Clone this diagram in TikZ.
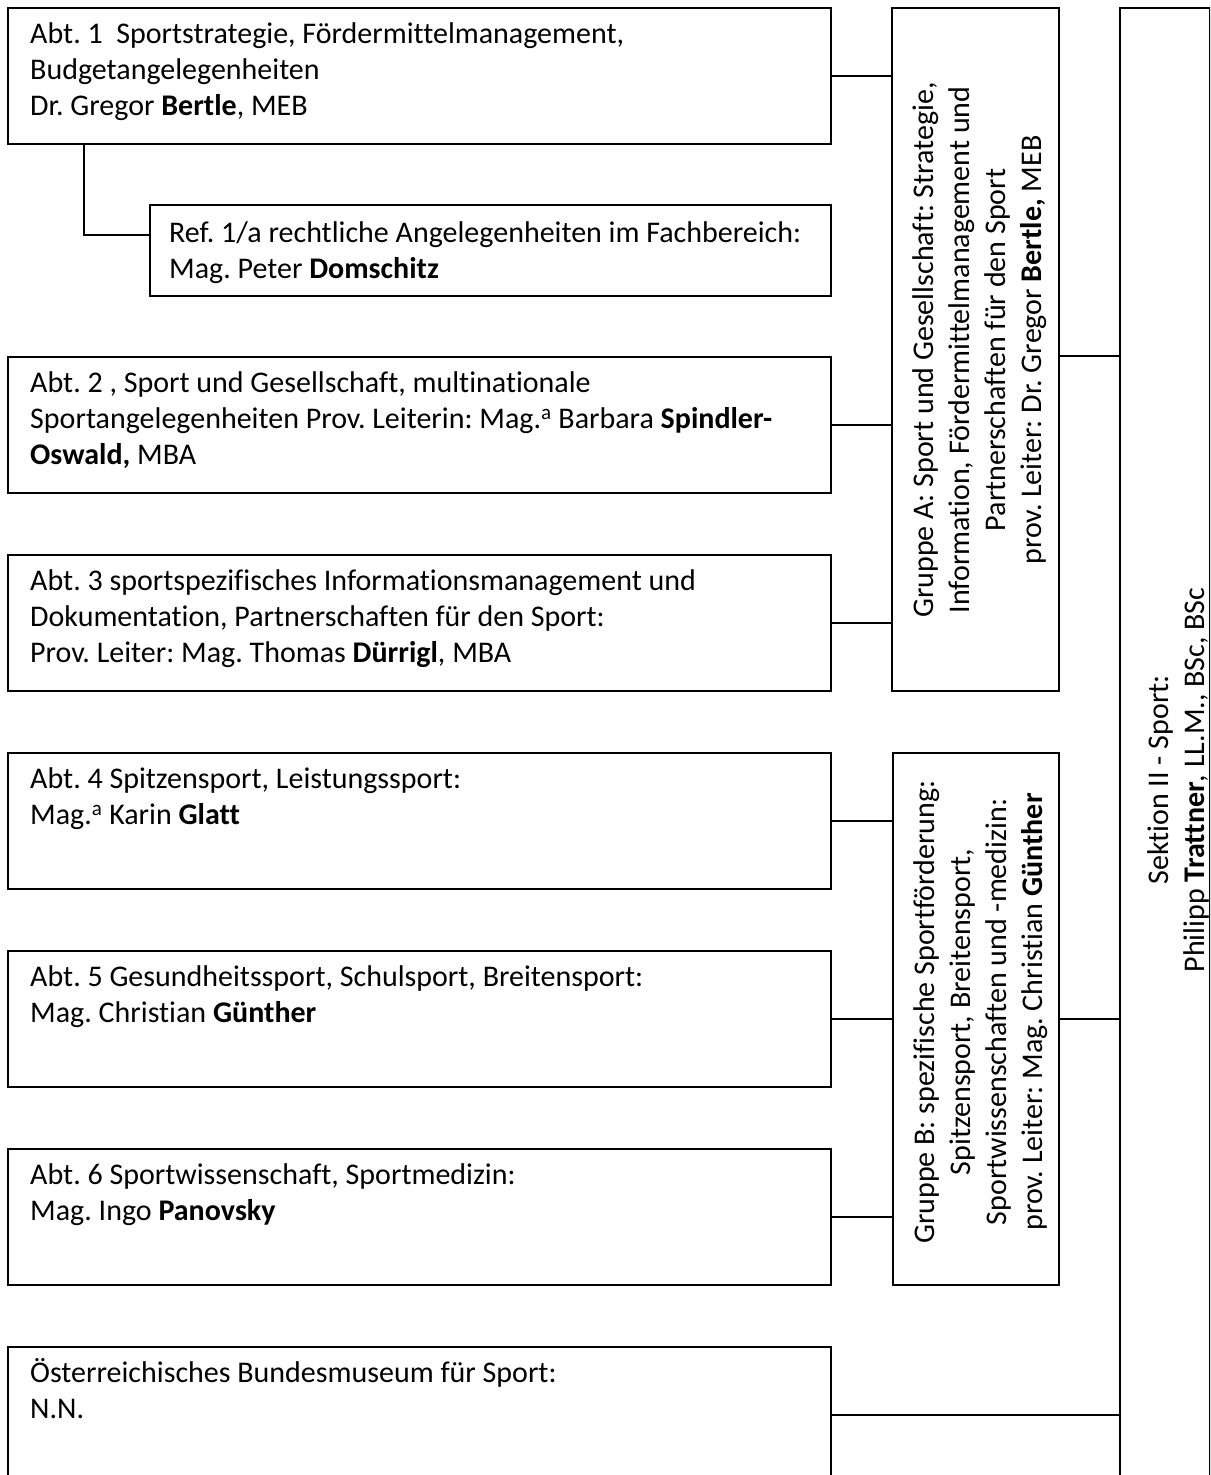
\documentclass[tikz,border=0pt]{standalone}
\usepackage{fontspec}
\setmainfont[Ligatures=NoCommon]{Carlito}
\newcommand{\orgfs}{\fontsize{30}{36}\selectfont\frenchspacing}
\begin{document}
\begin{tikzpicture}[x=1pt,y=-1pt,
  box/.style={draw, line width=2.4pt, rectangle, inner sep=0pt, anchor=north west},
  txt/.style={anchor=north west, inner sep=0pt, align=left, font=\orgfs},
  rtxt/.style={anchor=center, inner sep=0pt, align=center, rotate=90, font=\orgfs},
  conn/.style={line width=2pt}]
\useasboundingbox (0,0) rectangle (1210,1475);
\clip (0,0) rectangle (1210,1475);
% boxes
\node[box, minimum width=823pt, minimum height=136pt] (a1) at (7,7) {};
\node[box, minimum width=681pt, minimum height=91pt] (r1) at (149,204) {};
\node[box, minimum width=823pt, minimum height=136pt] (a2) at (7,356) {};
\node[box, minimum width=823pt, minimum height=136pt] (a3) at (7,554) {};
\node[box, minimum width=823pt, minimum height=136pt] (a4) at (7,752) {};
\node[box, minimum width=823pt, minimum height=136pt] (a5) at (7,950) {};
\node[box, minimum width=823pt, minimum height=136pt] (a6) at (7,1148) {};
\node[box, minimum width=823pt, minimum height=136pt] (mu) at (7,1346) {};
\node[box, minimum width=167pt, minimum height=683pt] (gA) at (891,7) {};
\node[box, minimum width=166pt, minimum height=532pt] (gB) at (892,752) {};
\node[box, minimum width=90pt, minimum height=1900pt] (sk) at (1119,7) {};
% texts
\node[txt] (ta1) at ([shift={(23pt,-11pt)}]a1.north west) {\strut Abt. 1~ Sportstrategie, Fördermittelmanagement,\\Budgetangelegenheiten\\Dr. Gregor \textbf{Bertle}, MEB};
\node[txt] (tr1) at ([shift={(20pt,-13pt)}]r1.north west) {\strut Ref. 1/a rechtliche Angelegenheiten im Fachbereich:\\Mag. Peter \textbf{Domschitz}};
\node[txt] (ta2) at ([shift={(23pt,-11pt)}]a2.north west) {\strut Abt. 2 , Sport und Gesellschaft, multinationale\\Sportangelegenheiten Prov. Leiterin: Mag.\textsuperscript{a} Barbara \textbf{Spindler-}\\\textbf{Oswald,} MBA};
\node[txt] (ta3) at ([shift={(23pt,-11pt)}]a3.north west) {\strut Abt. 3 sportspezifisches Informationsmanagement und\\Dokumentation, Partnerschaften für den Sport:\\Prov. Leiter: Mag. Thomas \textbf{Dürrigl}, MBA};
\node[txt] (ta4) at ([shift={(23pt,-11pt)}]a4.north west) {\strut Abt. 4 Spitzensport, Leistungssport:\\Mag.\textsuperscript{a} Karin \textbf{Glatt}};
\node[txt] (ta5) at ([shift={(23pt,-11pt)}]a5.north west) {\strut Abt. 5 Gesundheitssport, Schulsport, Breitensport:\\Mag. Christian \textbf{Günther}};
\node[txt] (ta6) at ([shift={(23pt,-11pt)}]a6.north west) {\strut Abt. 6 Sportwissenschaft, Sportmedizin:\\Mag. Ingo \textbf{Panovsky}};
\node[txt] (tmu) at ([shift={(23pt,-11pt)}]mu.north west) {\strut Österreichisches Bundesmuseum für Sport:\\N.N.};
\node[rtxt] (tgA) at (980,350) {Gruppe A: Sport und Gesellschaft: Strategie,\\Information, Fördermittelmanagement und\\Partnerschaften für den Sport\\prov. Leiter: Dr. Gregor \textbf{Bertle,} MEB};
\node[rtxt] (tgB) at (981,1012) {Gruppe B: spezifische Sportförderung:\\Spitzensport, Breitensport,\\Sportwissenschaften und -medizin:\\prov. Leiter: Mag. Christian \textbf{Günther}};
\node[rtxt] (tsk) at (1178,780) {Sektion II - Sport:\\Philipp \textbf{Trattner}, LL.M., BSc, BSc};
% connectors
\draw[conn] (a1.east) -- (a1.east -| gA.west);
\draw[conn] (a2.east) -- (a2.east -| gA.west);
\draw[conn] (a3.east) -- (a3.east -| gA.west);
\draw[conn] (a4.east) -- (a4.east -| gB.west);
\draw[conn] (a5.east) -- (a5.east -| gB.west);
\draw[conn] (a6.east) -- (a6.east -| gB.west);
\draw[conn] ([yshift=-6pt]gA.east) -- ([yshift=-6pt]gA.east -| sk.west);
\draw[conn] (gB.east) -- (gB.east -| sk.west);
\draw[conn] (mu.east) -- (mu.east -| sk.west);
\draw[conn] ([xshift=77pt]a1.south west) |- ([yshift=15.5pt]r1.west);
\end{tikzpicture}
\end{document}
